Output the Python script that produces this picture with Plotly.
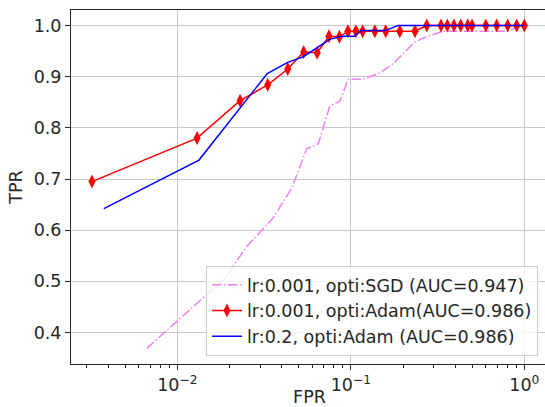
import plotly.graph_objects as go

# SGD lr 0.001
sgd_fpr = [0.00667, 0.0188, 0.0251, 0.0357, 0.0456, 0.0557, 0.065, 0.0757, 0.0866,
           0.0966, 0.1155, 0.145, 0.175, 0.234, 0.273, 0.341, 0.80, 1.0]
sgd_tpr = [0.369, 0.506, 0.568, 0.624, 0.682, 0.759, 0.769, 0.843, 0.852,
           0.895, 0.895, 0.906, 0.925, 0.968, 0.978, 0.989, 0.989, 1.0]

# Adam lr 0.001
adam1_fpr = [0.00322, 0.0130, 0.0230, 0.0332, 0.0433, 0.0535, 0.064, 0.0749, 0.0859,
             0.0963, 0.107, 0.117, 0.1376, 0.159, 0.1917, 0.2345, 0.274, 0.331,
             0.360, 0.393, 0.430, 0.472, 0.500, 0.600, 0.693, 0.802, 0.904, 1.0]
adam1_tpr = [0.695, 0.780, 0.853, 0.884, 0.915, 0.948, 0.947, 0.979, 0.978,
             0.989, 0.989, 0.989, 0.989, 0.989, 0.989, 0.989, 1.0, 1.0,
             1.0, 1.0, 1.0, 1.0, 1.0, 1.0, 1.0, 1.0, 1.0, 1.0]

# Adam lr 0.2
adam2_fpr = [0.00377, 0.01333, 0.0330, 0.0433, 0.0532, 0.0636, 0.0757, 0.0884,
             0.1045, 0.1155, 0.158, 0.187, 1.0]
adam2_tpr = [0.642, 0.737, 0.906, 0.928, 0.939, 0.956, 0.973, 0.979,
             0.979, 0.990, 0.990, 1.0, 1.0]

names = ["lr:0.001, opti:SGD (AUC=0.947)",
         "lr:0.001, opti:Adam(AUC=0.986)",
         "lr:0.2, opti:Adam (AUC=0.986)"]

x_ticks = [0.01, 0.1, 1]
x_ticktext = ["10<sup>−2</sup>", "10<sup>−1</sup>", "10<sup>0</sup>"]
x_minor = [m * d for d in (0.001, 0.01, 0.1, 1.0) for m in range(2, 10)]

FONT = "DejaVu Sans"
FS = 17.5

fig = go.Figure()
fig.add_trace(go.Scatter(x=sgd_fpr, y=sgd_tpr, mode="lines", name=names[0],
                         line=dict(color="#ee82ee", width=1.5, dash="9.6px,2.4px,1.5px,2.4px")))
fig.add_trace(go.Scatter(x=adam1_fpr, y=adam1_tpr, mode="lines+markers", name=names[1],
                         line=dict(color="#ff0000", width=1.5),
                         marker=dict(symbol="diamond-tall", size=10, color="#ff0000",
                                     line=dict(width=0))))
fig.add_trace(go.Scatter(x=adam2_fpr, y=adam2_tpr, mode="lines", name=names[2],
                         line=dict(color="#0000ff", width=1.5)))

axis_common = dict(showline=True, linecolor="#262626", linewidth=1, mirror=True,
                   ticks="outside", ticklen=5, tickcolor="#262626", automargin=False,
                   gridcolor="#c8c8c8", gridwidth=1, zeroline=False,
                   tickfont=dict(family=FONT, size=FS, color="#262626"))

fig.update_layout(
    width=548, height=407,
    margin=dict(l=71, r=0, t=10, b=43),
    paper_bgcolor="white", plot_bgcolor="white",
    font=dict(family=FONT, size=FS, color="#262626"),
    showlegend=True,
    legend=dict(x=0.979, y=0.023, xanchor="right", yanchor="bottom",
                bgcolor="rgba(255,255,255,0.8)", bordercolor="#cccccc", borderwidth=1,
                font=dict(family=FONT, size=FS, color="#262626"),
                itemwidth=30, tracegroupgap=0),
    xaxis=dict(type="log", range=[-2.6127, 0.1366],
               tickvals=x_ticks, ticktext=x_ticktext,
               minor=dict(tickvals=x_minor, ticks="outside", ticklen=2.5,
                          tickcolor="#262626", showgrid=False),
               title=dict(text="FPR", font=dict(family=FONT, size=FS), standoff=2),
               **axis_common),
    yaxis=dict(range=[0.3385, 1.0303], dtick=0.1, tick0=0, tickformat=".1f",
               title=dict(text="TPR", font=dict(family=FONT, size=FS), standoff=6),
               **axis_common),
)

fig.write_html("out.html", config={"displayModeBar": False},
               post_script="document.body.style.margin='0';document.body.style.overflow='hidden';")
